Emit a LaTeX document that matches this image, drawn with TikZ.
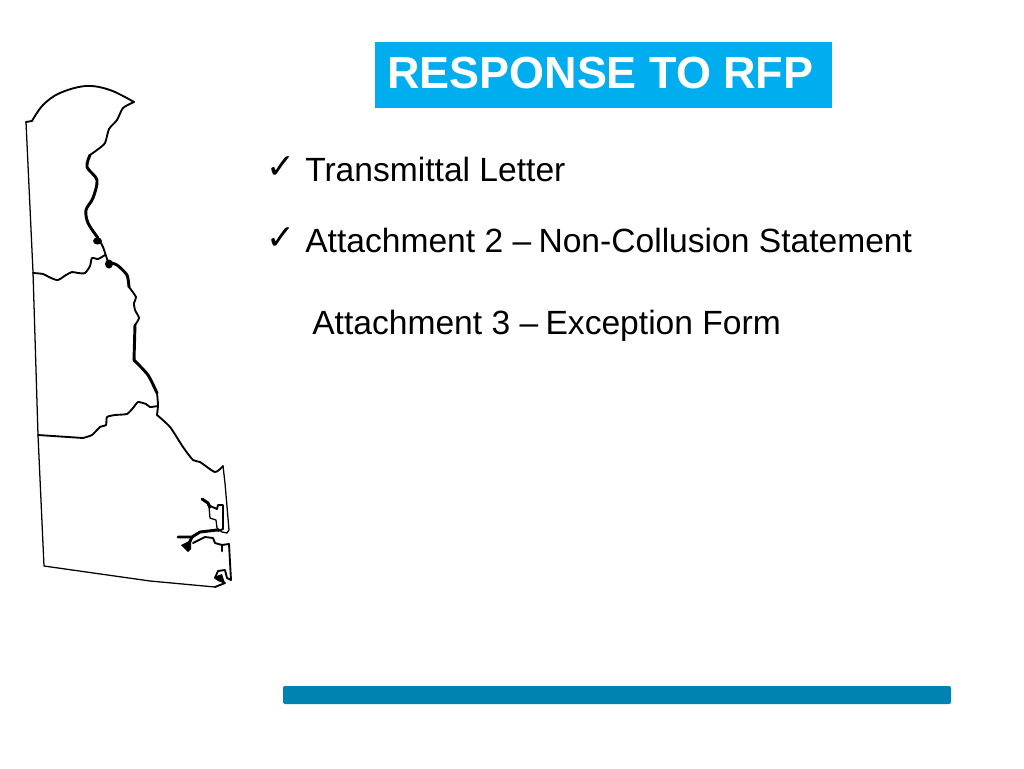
\documentclass[tikz,border=0pt]{standalone}
\usepackage{fontspec}
\setmainfont{Liberation Sans}
\newfontfamily\symfont{DejaVu Sans}
\definecolor{headblue}{HTML}{00AEEF}
\definecolor{barblue}{HTML}{0083B0}
\tikzset{
  x=0.75pt,y=-0.75pt,
  item/.style={anchor=base west,inner sep=0pt,font=\fontsize{25.2}{30}\selectfont,text=black},
  tick/.style={anchor=base west,inner sep=0pt,font=\symfont\fontsize{26}{30}\selectfont,text=black},
  thinmap/.style={line width=0.95pt,black,line join=round,line cap=round},
  midmap/.style={line width=1.4pt,black,line join=round,line cap=round},
  thickmap/.style={line width=2.2pt,black,line join=round,line cap=round},
  blob/.style={fill=black,draw=none}
}
\begin{document}
\begin{tikzpicture}
\useasboundingbox (0,0) rectangle (1024,768);
\fill[white] (0,0) rectangle (1024,768);
% header
\node[fill=headblue,minimum width=342.75pt,minimum height=49.5pt,inner sep=0pt] (head) at (603.5,75) {};
\node[anchor=base west,inner sep=0pt,text=white,font=\bfseries\fontsize{33.7}{38}\selectfont] (title) at (387,88) {RESPONSE TO RFP};
% items
\node[tick] (t1) at (266,178) {✓};
\node[item] (i1) at (305,181) {Transmittal Letter};
\node[tick] (t2) at (266,249) {✓};
\node[item] (i2) at (305,252) {Attachment 2 –\kern-1.5pt{} Non-Collusion Statement};
\node[item] (i3) at (312,334) {Attachment 3 –\kern-1.5pt{} Exception Form};
% bar
\fill[barblue,rounded corners=1.5pt] (283,686) rectangle (951,704);
% map: west border
\draw[thinmap] (26,122) -- (33,272) -- (38,435) -- (44,566) -- (150,581) -- (215,587);
% north arc
\draw[midmap] plot[smooth,tension=0.6] coordinates {(32,121) (43,105) (60,93) (86,86) (110,90) (134,102)};
\draw[midmap] (26,122) -- (32,121);
% river
\draw[midmap] plot[smooth,tension=0.4] coordinates {(134,102) (123,108) (117,120) (109,129) (105,143) (97,150) (90,155)};
\draw[thickmap] plot[smooth,tension=0.5] coordinates {(90,155) (87,167) (97,180) (93,198) (86,210) (88,223) (98,238)};
\draw[midmap] plot[smooth,tension=0.4] coordinates {(98,238) (103,247) (108,262)};
\draw[thickmap] plot[smooth,tension=0.4] coordinates {(108,262) (117,265) (127,275) (129,287)};
\draw[midmap] plot[smooth,tension=0.4] coordinates {(129,287) (136,297) (134,303) (135,310) (139,318) (135,325)};
\draw[thickmap] (135,325) -- (134,360);
\draw[thickmap] plot[smooth,tension=0.4] coordinates {(134,360) (148,375) (157,393)};
\draw[midmap] plot[smooth,tension=0.4] coordinates {(157,393) (158,405) (157,415)};
\draw[midmap] plot[smooth,tension=0.4] coordinates {(157,415) (170,427) (183,447) (193,460) (200,462) (215,472) (223,466)};
\draw[thinmap] (223,466) -- (225,483) -- (229,530) -- (227,533) -- (222,532) -- (217,528);
\fill[blob] (97.5,241) ellipse [x radius=4.5,y radius=3.5];
\fill[blob] (109,264) ellipse [x radius=4,y radius=4.5];
% dividers
\draw[midmap] plot[smooth,tension=0.4] coordinates {(33,273) (43,274) (51,278) (58,280) (66,275) (72,272) (78,273) (85,273) (90,266) (92,258) (98,259) (105,255)};
\draw[midmap] (38,435) -- (83,438);
\draw[midmap] plot[smooth,tension=0.3] coordinates {(83,438) (92,435) (100,427) (106,425) (107,417) (115,415) (127,414) (133,408) (138,402) (146,404) (150,407) (158,406)};
% south bays
\draw[thickmap] (202,499) -- (208,503) -- (210,507);
\draw[midmap] (208,505) -- (217,509) -- (218,505) -- (223,505) -- (223,529) -- (218,531);
\draw[thinmap] (209,507) -- (210,518) -- (216,520) -- (217,528);
\draw[thickmap] (217,530) -- (200,532) -- (192,537) -- (178,537);
\draw[thickmap] (192,537) -- (187,548);
\draw[midmap] (193,543) -- (205,537) -- (213,538) -- (215,543) -- (222,545) -- (229,544) -- (231,580);
\fill[blob] (181,545) -- (191,540) -- (191,549) -- (188,552) -- (185,549) -- cycle;
\draw[thickmap] (222,545) -- (222,551);
\draw[midmap] (231,580) -- (227,578) -- (225,570) -- (218,571) -- (215,578) -- (225,583) -- (215,587);
\fill[blob] (214,577) -- (222,574) -- (225,583) -- (218,581) -- cycle;
\end{tikzpicture}
\end{document}
